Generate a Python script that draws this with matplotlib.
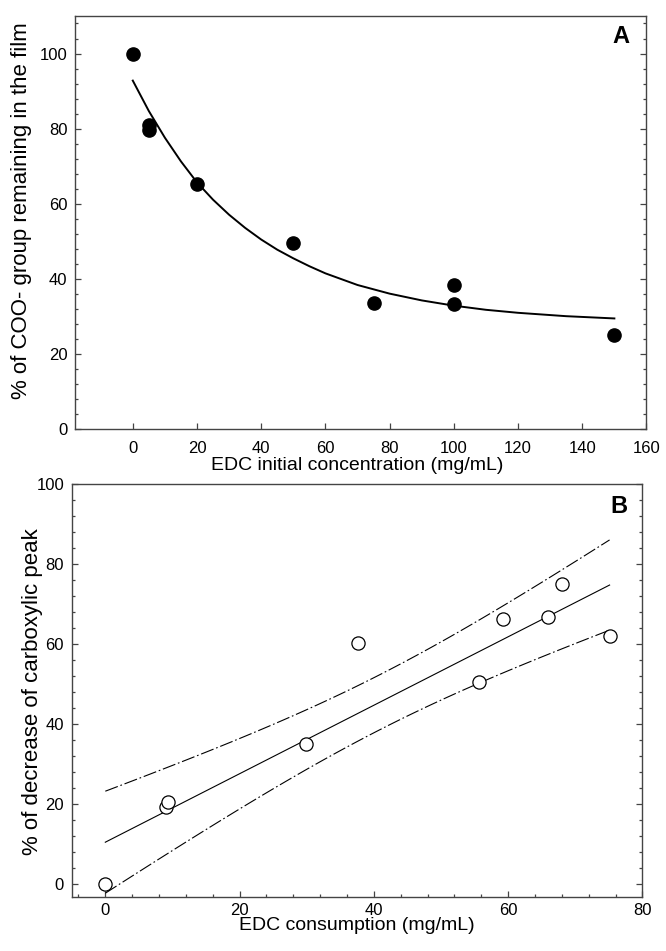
import numpy as np
import matplotlib
matplotlib.use("Agg")
import matplotlib.pyplot as plt
from matplotlib.ticker import MultipleLocator

plt.rcParams['font.family'] = ['Liberation Sans', 'DejaVu Sans']

# panel A: COO- remaining vs EDC initial concentration
edc_init = [0, 5, 5, 20, 50, 75, 100, 100, 150]
coo_left = [100, 81, 79.7, 65.2, 49.5, 33.7, 38.3, 33.3, 25]
# fitted decay curve
fit_x = [0, 5, 10, 15, 20, 25, 30, 35, 40, 45, 50, 55, 60, 70, 80, 90,
         100, 110, 120, 135, 150]
fit_y = [92.8, 84.7, 77.6, 71.3, 65.7, 61.1, 57.1, 53.6, 50.5, 47.8, 45.5,
         43.4, 41.5, 38.4, 36.1, 34.3, 32.9, 31.8, 31.0, 30.1, 29.5]

# panel B: decrease of carboxylic peak vs EDC consumption
edc_used = [0, 9.0, 9.4, 29.9, 37.6, 55.6, 59.2, 66.0, 68.0, 75.1]
carb_dec = [0, 19.2, 20.5, 35.0, 60.3, 50.6, 66.3, 66.8, 75.1, 62.0]

spine_col = '#444444'


def style_axes(ax, x_minor, xpad):
    for s in ax.spines.values():
        s.set_color(spine_col)
        s.set_linewidth(1.0)
    ax.tick_params(which='both', direction='in', colors=spine_col,
                   labelcolor='black', labelsize=12, width=0.9)
    ax.tick_params(axis='y', which='both', left=True, right=True, pad=5.5)
    ax.tick_params(axis='x', which='both', top=False, bottom=True, pad=xpad)
    ax.tick_params(which='major', length=4.5)
    ax.tick_params(which='minor', length=2.5)
    ax.yaxis.set_major_locator(MultipleLocator(20))
    ax.yaxis.set_minor_locator(MultipleLocator(4))
    ax.xaxis.set_major_locator(MultipleLocator(20))
    if x_minor:
        ax.xaxis.set_minor_locator(MultipleLocator(4))


fig = plt.figure(figsize=(6.66, 9.51), dpi=100)

# ---- A ----
axA = fig.add_axes([0.1126, 0.5486, 0.8581, 0.4346])
axA.plot(fit_x, fit_y, color='black', lw=1.4, zorder=2)
axA.plot(edc_init, coo_left, 'o', color='black', ms=9.5, zorder=3)
axA.set_xlim(-18, 160)
axA.set_ylim(0, 110)
style_axes(axA, False, 8.5)
axA.set_xlabel('EDC initial concentration (mg/mL)', fontsize=14)
axA.set_ylabel('% of COO- group remaining in the film', fontsize=16)
axA.xaxis.set_label_coords(0.494, -0.066)
axA.yaxis.set_label_coords(-0.075, 0.53)
axA.text(152.1, 102.7, 'A', fontsize=17, fontweight='bold',
         ha='center', va='baseline')

# ---- B ----
axB = fig.add_axes([0.1077, 0.0565, 0.857, 0.4342])
x = np.array(edc_used)
y = np.array(carb_dec)
slope, icpt = np.polyfit(x, y, 1)
n = len(x)
resid = y - (icpt + slope * x)
s = np.sqrt(np.sum(resid ** 2) / (n - 2))
t95 = 2.306  # t(0.975, df=8)
xx = np.linspace(0, x.max(), 100)
yy = icpt + slope * xx
half = t95 * s * np.sqrt(1 / n + (xx - x.mean()) ** 2 / np.sum((x - x.mean()) ** 2))

band_dash = (12, 2.5, 1.5, 2.5)
axB.plot(xx, yy, color='black', lw=0.8, zorder=2)
axB.plot(xx, yy + half, color='black', lw=0.8, dashes=band_dash, zorder=2)
axB.plot(xx, yy - half, color='black', lw=0.8, dashes=band_dash, zorder=2)
axB.plot(edc_used, carb_dec, 'o', mfc='white', mec='black', mew=0.9,
         ms=9.5, zorder=3)
axB.set_xlim(-5, 80)
axB.set_ylim(-3.3, 100)
style_axes(axB, True, 4)
axB.set_xlabel('EDC consumption (mg/mL)', fontsize=14)
axB.set_ylabel('% of decrease of carboxylic peak', fontsize=16)
axB.xaxis.set_label_coords(0.5, -0.047)
axB.yaxis.set_label_coords(-0.050, 0.498)
axB.text(76.5, 92.8, 'B', fontsize=17, fontweight='bold',
         ha='center', va='baseline')

fig.savefig('out.png', dpi=100)
